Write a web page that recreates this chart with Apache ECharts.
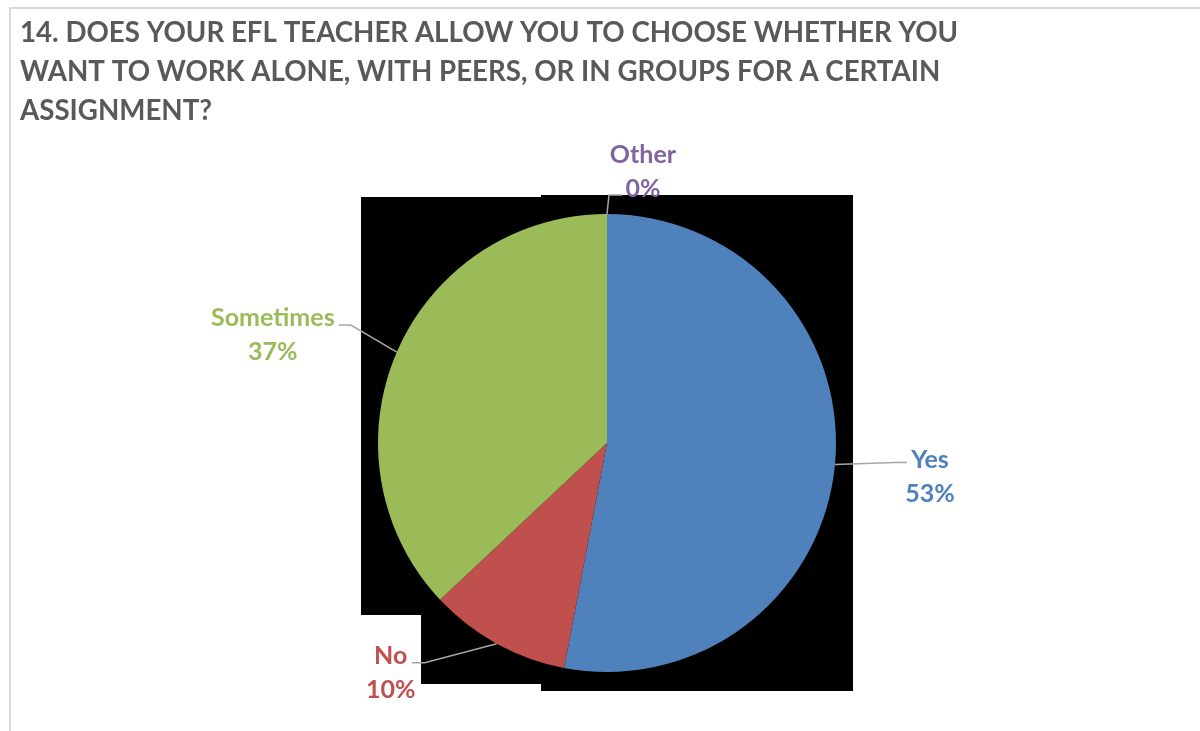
<!DOCTYPE html>
<html>
<head>
<meta charset="utf-8">
<script src="https://cdn.jsdelivr.net/npm/echarts@6/dist/echarts.min.js"></script>
<style>
  html, body { margin: 0; padding: 0; background: #ffffff; }
  #chart { width: 1200px; height: 731px; }
</style>
</head>
<body>
<div id="chart"></div>
<script>
// Survey question text, one entry per printed line
const titleLines = [
  '14. DOES YOUR EFL TEACHER ALLOW YOU TO CHOOSE WHETHER YOU',
  'WANT TO WORK ALONE, WITH PEERS, OR IN GROUPS FOR A CERTAIN',
  'ASSIGNMENT?'
];

// Answer categories and their share of responses (%)
const categories = ['Yes', 'No', 'Sometimes', 'Other'];
const shares = [53, 10, 37, 0];

// Slice colours, in category order
const sliceColors = ['#4F81BD', '#C0504D', '#9BBB59', '#8064A2'];

// Callout placement, measured from the point where each leader line leaves the slice
const calloutOffsets = {
  Yes:       { center: [95, 12],    elbow: [60, -2],   end: [72, -2] },
  No:        { center: [-106, 29],  elbow: [-72, 19],  end: [-85, 19] },
  Sometimes: { center: [-124, -17], elbow: [-46, -27], end: [-58, -27] },
  Other:     { center: [36, -42],   elbow: [2, -19],   end: [15, -19] }
};

const FONT = 'Lato, "Open Sans", "DejaVu Sans", sans-serif';

const chart = echarts.init(document.getElementById('chart'), null, { renderer: 'canvas' });

const pieData = categories.map((name, i) => ({
  name: name,
  value: shares[i],
  itemStyle: { color: sliceColors[i] },
  label: { color: sliceColors[i] }
}));

chart.setOption({
  backgroundColor: '#ffffff',
  animation: false,
  title: {
    text: titleLines.join('\n'),
    left: 20,
    top: 14,
    padding: 0,
    textStyle: {
      fontFamily: FONT,
      fontSize: 27.7,
      fontWeight: 'bold',
      color: '#595959',
      lineHeight: 39
    }
  },
  graphic: [
    {
      type: 'rect',
      z: -10,
      shape: { x: 10, y: 8, width: 1200, height: 760 },
      style: { fill: 'none', stroke: '#D9D9D9', lineWidth: 2 }
    },
    {
      type: 'group',
      z: -5,
      children: [
        { type: 'rect', shape: { x: 361, y: 197, width: 492, height: 418 }, style: { fill: '#000000' } },
        { type: 'rect', shape: { x: 421, y: 197, width: 120, height: 487 }, style: { fill: '#000000' } },
        { type: 'rect', shape: { x: 541, y: 195, width: 312, height: 496 }, style: { fill: '#000000' } }
      ]
    }
  ],
  series: [
    {
      type: 'pie',
      center: [607, 443],
      radius: 229,
      startAngle: 90,
      clockwise: true,
      minShowLabelAngle: 0,
      avoidLabelOverlap: false,
      itemStyle: { borderWidth: 0 },
      data: pieData,
      label: {
        show: true,
        position: 'outside',
        fontFamily: FONT,
        fontSize: 25,
        fontWeight: 'bold',
        lineHeight: 34,
        formatter: p => p.name + '\n' + Math.round(p.percent) + '%'
      },
      labelLine: {
        show: true,
        length: 10,
        length2: 10,
        smooth: false,
        lineStyle: { color: '#A6A6A6', width: 1.5 }
      },
      labelLayout: function (params) {
        const off = calloutOffsets[categories[params.dataIndex]];
        const pts = params.labelLinePoints;
        if (!off || !pts) return {};
        const a = pts[0];
        return {
          x: a[0] + off.center[0],
          y: a[1] + off.center[1],
          align: 'center',
          verticalAlign: 'middle',
          labelLinePoints: [
            [a[0], a[1]],
            [a[0] + off.elbow[0], a[1] + off.elbow[1]],
            [a[0] + off.end[0], a[1] + off.end[1]]
          ]
        };
      },
      emphasis: { disabled: true }
    }
  ]
});
</script>
</body>
</html>
